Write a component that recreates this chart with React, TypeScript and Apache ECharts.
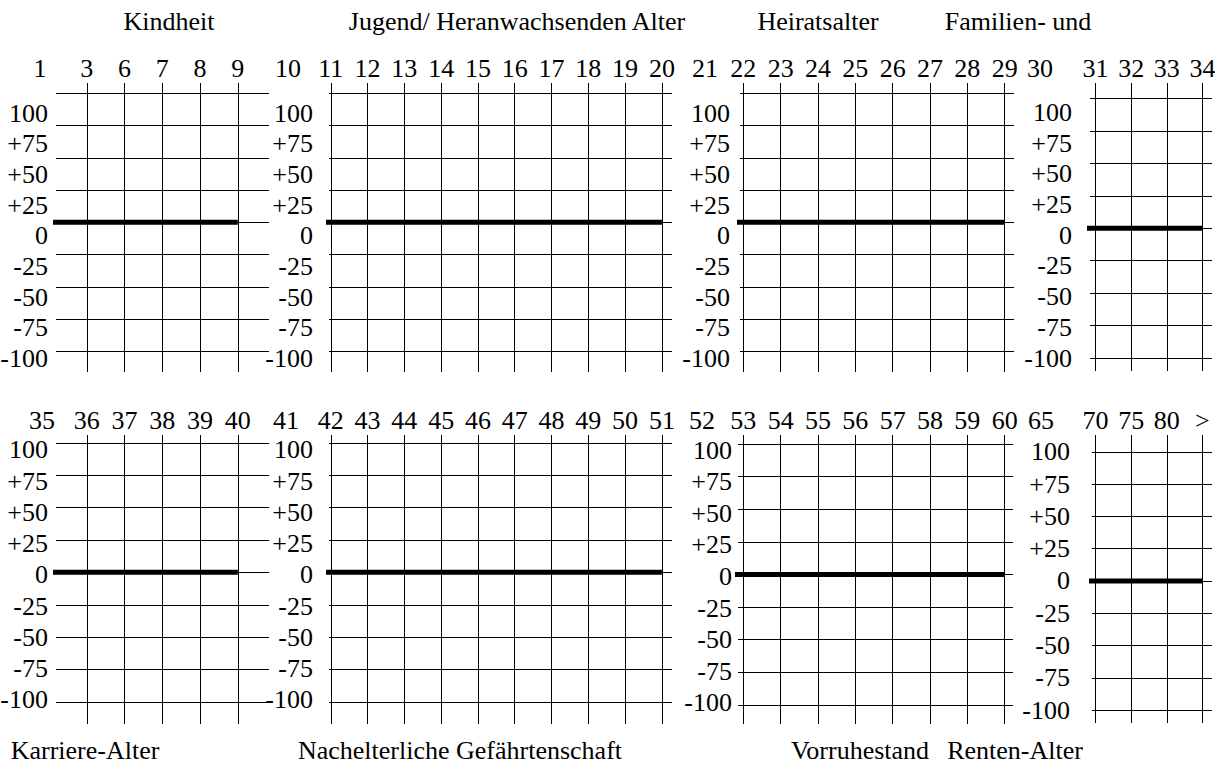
import React, { useEffect, useRef } from "react";
import * as echarts from "echarts";

// ---- data ----
const topPhases = ["Kindheit", "Jugend/ Heranwachsenden Alter", "Heiratsalter", "Familien- und"];
const bottomPhases = ["Karriere-Alter", "Nachelterliche Gefährtenschaft", "Vorruhestand", "Renten-Alter"];

const ages1 = ["1", "3", "6", "7", "8", "9"];
const ages2 = ["10", "11", "12", "13", "14", "15", "16", "17", "18", "19", "20"];
const ages3 = ["21", "22", "23", "24", "25", "26", "27", "28", "29"];
const ages4 = ["30", "31", "32", "33", "34"];
const ages5 = ["35", "36", "37", "38", "39", "40"];
const ages6 = ["41", "42", "43", "44", "45", "46", "47", "48", "49", "50", "51"];
const ages7 = ["52", "53", "54", "55", "56", "57", "58", "59", "60"];
const ages8 = ["65", "70", "75", "80", ">"];

const level1 = [0, 0, 0, 0, 0, 0];
const level2 = [0, 0, 0, 0, 0, 0, 0, 0, 0, 0, 0];
const level3 = [0, 0, 0, 0, 0, 0, 0, 0, 0];
const level4 = [0, 0, 0, 0, 0];
const level5 = [0, 0, 0, 0, 0, 0];
const level6 = [0, 0, 0, 0, 0, 0, 0, 0, 0, 0, 0];
const level7 = [0, 0, 0, 0, 0, 0, 0, 0, 0];
const level8 = [0, 0, 0, 0, 0];

const yTicks = [100, 75, 50, 25, 0, -25, -50, -75, -100];
const yTickLabels = ["100", "+75", "+50", "+25", "0", "-25", "-50", "-75", "-100"];

// ---- layout (pixels) ----
// shiftTop / shiftBottom: vertical offset of the y labels (px) at 100 and at -100
const layouts = [
  { left: 56, right: 269, top: 83, bottom: 372, x0: 49, step: 37.75, yMin: -116, yMax: 108, yMargin: 8, nameShift: 16, shiftTop: 20, shiftBottom: 7 },
  { left: 329, right: 672, top: 83, bottom: 372, x0: 294, step: 36.79, yMin: -116, yMax: 108, yMargin: 16, nameShift: 41, shiftTop: 20, shiftBottom: 7 },
  { left: 740, right: 1014, top: 83, bottom: 372, x0: 706, step: 37.33, yMin: -116, yMax: 108, yMargin: 10, nameShift: 35, shiftTop: 20, shiftBottom: 7 },
  { left: 1090, right: 1212, top: 83, bottom: 371, x0: 1060, step: 35.6, yMin: -110, yMax: 112, yMargin: 18, nameShift: 50, shiftTop: 14, shiftBottom: 0 },
  { left: 56, right: 269, top: 435, bottom: 724, x0: 49, step: 37.75, yMin: -117, yMax: 106, yMargin: 8, nameShift: 14, shiftTop: 7, shiftBottom: -2 },
  { left: 329, right: 672, top: 435, bottom: 724, x0: 294, step: 36.79, yMin: -117, yMax: 106, yMargin: 16, nameShift: 43, shiftTop: 7, shiftBottom: -2 },
  { left: 738, right: 1013, top: 435, bottom: 724, x0: 706, step: 37.33, yMin: -114.6, yMax: 106.9, yMargin: 6, nameShift: 36, shiftTop: 6, shiftBottom: -2 },
  { left: 1092, right: 1212, top: 435, bottom: 723, x0: 1060, step: 35.6, yMin: -110, yMax: 113, yMargin: 22, nameShift: 51, shiftTop: 0, shiftBottom: 0 },
];

const titlePos = [
  { x: 169, y: 21 }, { x: 517, y: 21 }, { x: 818, y: 21 }, { x: 1018, y: 21 },
  { x: 85, y: 750 }, { x: 460, y: 750 }, { x: 860, y: 750 }, { x: 1015, y: 750 },
];

const FONT = "Liberation Serif";
const FS = 26;

export default function App() {
  const ref = useRef<HTMLDivElement>(null);

  useEffect(() => {
    if (!ref.current) return;
    const chart = echarts.init(ref.current, null, { renderer: "svg" });

    const agesList = [ages1, ages2, ages3, ages4, ages5, ages6, ages7, ages8];
    const levels = [level1, level2, level3, level4, level5, level6, level7, level8];
    const titles = [...topPhases, ...bottomPhases];

    const grids: any[] = [];
    const xAxes: any[] = [];
    const yAxes: any[] = [];
    const series: any[] = [];

    layouts.forEach((p, k) => {
      const ages = agesList[k];
      const idx = ages.map((_, i) => i).slice(1);
      const unitsPerPx = (p.yMax - p.yMin) / (p.bottom - p.top);
      const labelVals = yTicks.map((v) => {
        const t = (100 - v) / 200;
        const shift = p.shiftTop + (p.shiftBottom - p.shiftTop) * t;
        return v - shift * unitsPerPx;
      });
      grids.push({
        left: p.left,
        top: p.top,
        width: p.right - p.left,
        height: p.bottom - p.top,
        containLabel: false,
        outerBoundsMode: "none",
        show: false,
      });
      xAxes.push({
        type: "value",
        gridIndex: k,
        position: "top",
        min: (p.left - p.x0) / p.step,
        max: (p.right - p.x0) / p.step,
        axisLine: { show: false, onZero: false },
        axisTick: { show: false, customValues: idx },
        axisLabel: {
          customValues: idx,
          formatter: (v: number) => ages[Math.round(v)] ?? "",
          margin: 2,
          fontSize: FS,
          fontFamily: FONT,
          color: "#000",
        },
        splitLine: { show: true, lineStyle: { color: "#000", width: 1 } },
      });
      yAxes.push({
        type: "value",
        gridIndex: k,
        min: p.yMin,
        max: p.yMax,
        name: ages[0],
        nameLocation: "end",
        nameGap: 2,
        nameMoveOverlap: false,
        nameTextStyle: {
          fontSize: FS,
          fontFamily: FONT,
          color: "#000",
          padding: [0, 2 * p.nameShift, 0, 0],
        },
        axisLine: { show: false, onZero: false },
        axisTick: { show: false, customValues: yTicks },
        axisLabel: {
          customValues: labelVals,
          formatter: (v: number) => {
            let best = 0;
            labelVals.forEach((lv, i) => {
              if (Math.abs(lv - v) < Math.abs(labelVals[best] - v)) best = i;
            });
            return yTickLabels[best];
          },
          margin: p.yMargin,
          fontSize: FS,
          fontFamily: FONT,
          color: "#000",
        },
        splitLine: { show: true, lineStyle: { color: "#000", width: 1 } },
      });
      series.push({
        type: "line",
        xAxisIndex: k,
        yAxisIndex: k,
        data: levels[k].map((v, i) => [i, v]),
        symbol: "none",
        clip: true,
        silent: true,
        lineStyle: { color: "#000", width: 5 },
      });
    });

    const graphic = titles.map((t, i) => ({
      type: "text",
      x: titlePos[i].x,
      y: titlePos[i].y,
      style: {
        text: t,
        fontSize: FS,
        fontFamily: FONT,
        fill: "#000",
        align: "center",
        verticalAlign: "middle",
      },
    }));

    chart.setOption({
      animation: false,
      backgroundColor: "#fff",
      textStyle: { fontFamily: FONT },
      grid: grids,
      xAxis: xAxes,
      yAxis: yAxes,
      series,
      graphic,
    });

    return () => chart.dispose();
  }, []);

  return (
    <div
      ref={ref}
      style={{ position: "absolute", left: 0, top: 0, width: 1215, height: 769 }}
    />
  );
}
